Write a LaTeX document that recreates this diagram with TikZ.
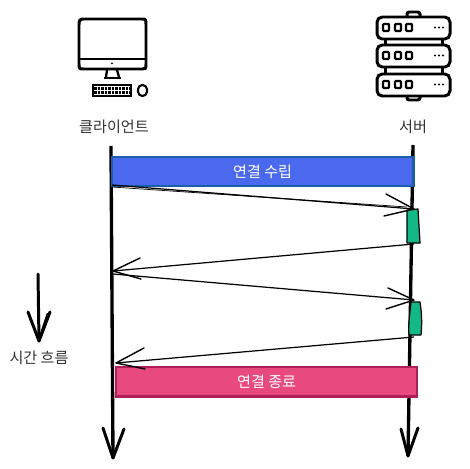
\documentclass[tikz,border=0pt]{standalone}
\usepackage{fontspec}
\setmainfont{Noto Sans CJK KR}
\definecolor{barblue}{HTML}{4A69EE}
\definecolor{barblueedge}{HTML}{1A5FA8}
\definecolor{barpink}{HTML}{E84A80}
\definecolor{barpinkedge}{HTML}{B01E5A}
\definecolor{procgreen}{HTML}{12B886}
\definecolor{labelgrey}{HTML}{333333}
\tikzset{
  x=0.02cm,y=-0.02cm,
  lifeline/.style={line width=1.9pt,black},
  head/.style={line width=1.7pt,black,line cap=round,line join=round},
  msg/.style={line width=0.7pt,black},
  msgtip/.style={line width=0.8pt,black,line cap=round},
  icon/.style={line width=1.7pt,black,rounded corners=1.3pt},
  lbl/.style={font=\fontsize{8.6pt}{10pt}\selectfont,text=labelgrey,inner sep=0pt},
  barlbl/.style={font=\fontsize{8.6pt}{10pt}\selectfont,text=white,inner sep=0pt},
  proc/.style={draw=black,fill=procgreen,line width=0.7pt,line join=round},
}
\begin{document}
\begin{tikzpicture}
\useasboundingbox (0,0) rectangle (469,469);
% coordinates
\coordinate (ct) at (111,146);
\coordinate (cb) at (113,458);
\coordinate (st) at (413,145);
\coordinate (sb) at (408,456);
\coordinate (m1a) at (112,185);
\coordinate (m1b) at (414,209);
\coordinate (m1c) at (112,187);
\coordinate (m1d) at (407,207);
\coordinate (m2a) at (414,244);
\coordinate (m2b) at (113,271);
\coordinate (m3a) at (113,274);
\coordinate (m3b) at (414,300);
\coordinate (m4a) at (414,337);
\coordinate (m4b) at (116,363);
\coordinate (ta) at (38,274);
\coordinate (tb) at (39,341);
% lifelines
\draw[lifeline] (ct) -- (cb);
\draw[lifeline] (st) -- (sb);
\draw[head] (cb) -- (103,428) (cb) -- (124,429);
\draw[head] (sb) -- (401,429) (sb) -- (418,428);
% bars
\node[draw=barblueedge,fill=barblue,line width=1.3pt,inner sep=0pt,anchor=north west,minimum width=6.04cm,minimum height=0.58cm] (open) at (110.5,156) {};
\node[barlbl] at (open.center) {연결 수립};
\node[draw=barpinkedge,fill=barpink,line width=1.3pt,inner sep=0pt,anchor=north west,minimum width=6.02cm,minimum height=0.59cm] (close) at (115,366) {};
\node[barlbl] at (close.center) {연결 종료};
% process boxes
\path[proc] (407,210) -- (418,209) -- (420,243) -- (407,243) -- cycle;
\path[proc] (411,302) -- (420,302) .. controls (422,315) and (422,325) .. (421,335) -- (409,335) .. controls (408,325) and (410,312) .. (411,302) -- cycle;
% messages
\draw[msg] (m1a) -- (m1b);
\draw[line width=0.4pt] (m1c) -- (m1d);
\draw[msg] (m2a) -- (m2b);
\draw[msg] (m3a) -- (m3b);
\draw[msg] (m4a) -- (m4b);
\draw[msgtip] (m1b) -- (386,194) (m1b) -- (384,216);
\draw[msgtip] (m2b) -- (140,258) (m2b) -- (141,279);
\draw[msgtip] (m3b) -- (388,288) (m3b) -- (386,309);
\draw[msgtip] (m4b) -- (144,348) (m4b) -- (145,369);
% time arrow
\draw[head] (ta) -- (tb);
\draw[head] (tb) -- (28,312) (tb) -- (50,312) (tb) -- (48,314);
\node[lbl] (timelabel) at (39,358) {시간 흐름};
% labels
\node[lbl] (clabel) at (114,127) {클라이언트};
\node[lbl] (slabel) at (413,127) {서버};
% desktop icon
\begin{scope}[icon]
  \draw (79,27) .. controls (79,20) and (80,19) .. (86,19) -- (140,19) .. controls (146,19) and (146,20) .. (146,27) -- (146,62) .. controls (146,69) and (145,69) .. (140,69) -- (86,69) .. controls (80,69) and (79,69) .. (79,62) -- cycle;
  \draw (79,59) -- (146,59);
  \draw[line width=1.3pt] (107,70) -- (106,77) (117,70) -- (119,77);
  \draw (104,78) -- (121,78);
  \fill (112,63.5) circle (1);
  \draw[line width=1.2pt,sharp corners] (93,85) rectangle (131,96);
  \draw[line width=1.3pt,dash pattern=on 1.5pt off 0.5pt] (94,88.5) -- (130,88.5);
  \draw[line width=1.3pt,dash pattern=on 1.5pt off 0.5pt] (94,92.5) -- (130,92.5);
  \draw[line width=1.2pt,rounded corners=2.5pt] (138,85) rectangle (147,96);
\end{scope}
% server icon
\begin{scope}[icon]
  \foreach \yy in {17,45,74}{
    \draw[rounded corners=3pt] (377,\yy) rectangle (450,\yy+22);
    \foreach \xx in {383,395,406}{
      \draw[line width=1.3pt,rounded corners=0.5pt] (\xx,\yy+7) rectangle +(6,7);
    }
    \foreach \xx in {435,439,443}{
      \fill (\xx,\yy+10.5) circle (1.2);
    }
  }
  \draw (385,39) -- (385,45) (442,39) -- (442,45);
  \draw (385,67) -- (385,74) (442,67) -- (442,74);
  \draw (407,17) -- (407,12) -- (420,12) -- (420,17);
  \draw (407,96) -- (407,100) -- (420,100) -- (420,96);
\end{scope}
\end{tikzpicture}
\end{document}
